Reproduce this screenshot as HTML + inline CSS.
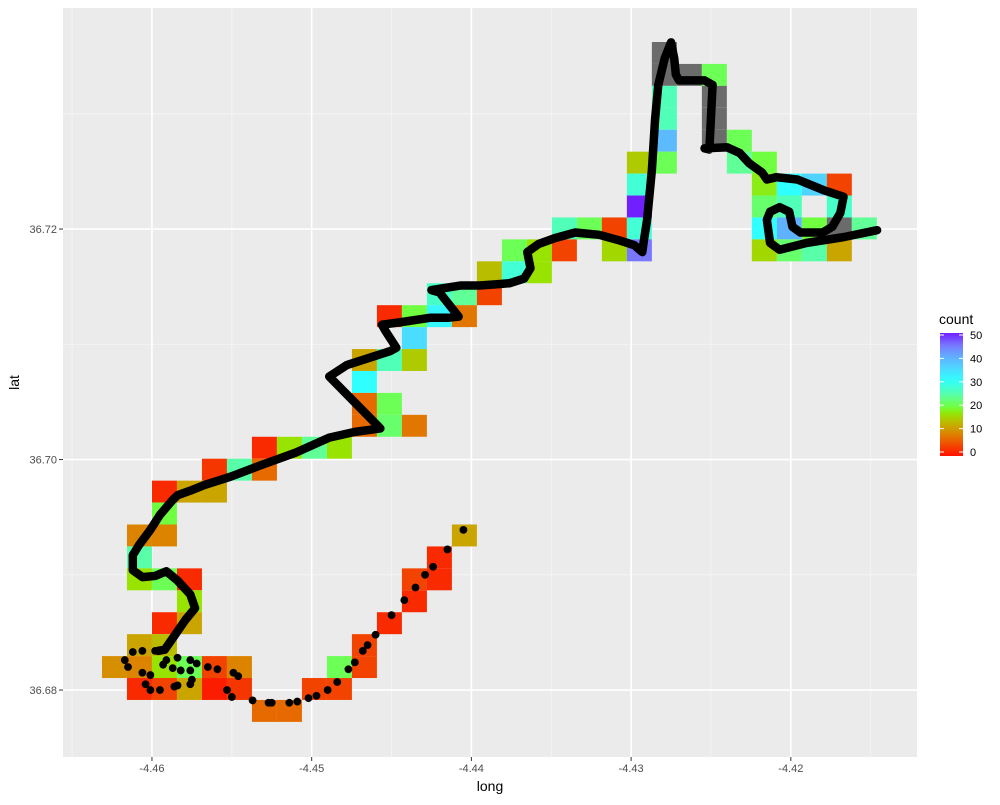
<!DOCTYPE html>
<html><head><meta charset="utf-8"><style>
body{margin:0;background:#fff;font-family:"Liberation Sans",sans-serif}
</style></head><body>
<svg id="chart" width="1000" height="800" xmlns="http://www.w3.org/2000/svg" font-family="Liberation Sans, sans-serif"></svg>
<script>
const tileCol=[22,22,23,24,22,24,22,24,22,24,25,21,22,25,26,21,26,27,28,29,21,26,27,29,18,19,20,21,26,27,28,29,30,16,17,18,20,21,26,27,28,29,15,16,17,13,14,15,11,12,13,14,12,10,11,12,10,10,11,10,11,12,6,7,8,9,4,5,6,2,3,4,2,1,2,14,1,13,1,2,3,12,13,3,12,2,3,11,1,2,10,0,1,2,3,4,5,9,10,1,2,3,4,5,8,9,6,7];
const tileRow=[0,1,1,1,2,2,3,3,4,4,4,5,5,5,5,6,6,6,6,6,7,7,7,7,8,8,8,8,8,8,8,8,8,9,9,9,9,9,9,9,9,9,10,10,10,11,11,11,12,12,12,12,13,14,14,14,15,16,16,17,17,17,18,18,18,18,19,19,19,20,20,20,21,22,22,22,23,23,24,24,24,24,24,25,25,26,26,26,27,27,27,28,28,28,28,28,28,28,28,29,29,29,29,29,29,29,30,30];
const tileCount=[null,null,null,21,26,null,26,null,39,null,21,15,21,24,20,28,18,31,36,4,50,22,26,27,26,21,4,28,31,40,20,null,24,21,17,4,16,45,16,22,25,12,14,28,17,27,24,4,2,20,32,8,35,12,26,15,31,7,21,7,22,8,2,17,24,17,3,25,7,2,12,12,20,9,9,12,25,2,17,21,2,4,2,17,2,2,12,2,12,14,4,10,9,17,21,4,9,21,4,2,4,12,1,3,4,4,7,7];
const binOriginLong=-4.46313, binWidth=0.001565, binTopLat=36.73623, binHeight=0.001903;

const dotLong=[-4.4405,-4.4415,-4.4424,-4.4429,-4.4435,-4.4442,-4.4450,-4.4460,-4.4465,-4.4468,-4.4473,-4.4477,-4.4484,-4.4490,-4.4497,-4.4502,-4.4509,-4.4514,-4.4525,-4.4527,-4.4537,-4.4550,-4.4553,-4.4546,-4.4549,-4.4559,-4.4565,-4.4572,-4.4576,-4.4584,-4.4591,-4.4593,-4.4587,-4.4582,-4.4576,-4.4575,-4.4576,-4.4584,-4.4586,-4.4595,-4.4601,-4.4604,-4.4601,-4.4606,-4.4615,-4.4617,-4.4612,-4.4606,-4.4598];
const dotLat=[36.6939,36.6922,36.6907,36.6900,36.6889,36.6878,36.6865,36.6848,36.6839,36.6834,36.6824,36.6818,36.6807,36.6800,36.6795,36.6793,36.6790,36.6789,36.6789,36.6789,36.6791,36.6794,36.6800,36.6812,36.6815,36.6818,36.6820,36.6823,36.6826,36.6828,36.6826,36.6822,36.6819,36.6817,36.6817,36.6809,36.6805,36.6804,36.6803,36.6800,36.6800,36.6805,36.6813,36.6815,36.6820,36.6826,36.6833,36.6834,36.6834];
const trackLong=[-4.4596,-4.4592,-4.4579,-4.4573,-4.4576,-4.4584,-4.4591,-4.4598,-4.4606,-4.4612,-4.4612,-4.4608,-4.4601,-4.4595,-4.4587,-4.4584,-4.4576,-4.4567,-4.4551,-4.4532,-4.4510,-4.4489,-4.4473,-4.4457,-4.4489,-4.4478,-4.4451,-4.4447,-4.4454,-4.4456,-4.4445,-4.4426,-4.4415,-4.4408,-4.4420,-4.4425,-4.4407,-4.4395,-4.4385,-4.4376,-4.4367,-4.4363,-4.4365,-4.4358,-4.4348,-4.4335,-4.4320,-4.4307,-4.4298,-4.4293,-4.4292,-4.4290,-4.4287,-4.4285,-4.4283,-4.4279,-4.4275,-4.4273,-4.4272,-4.4270,-4.4254,-4.4249,-4.4251,-4.4254,-4.4240,-4.4232,-4.4226,-4.4218,-4.4215,-4.4209,-4.4196,-4.4180,-4.4167,-4.4169,-4.4174,-4.4180,-4.4194,-4.4199,-4.4201,-4.4207,-4.4213,-4.4215,-4.4213,-4.4207,-4.4190,-4.4167,-4.4146];
const trackLat=[36.6834,36.6835,36.6861,36.6871,36.6883,36.6895,36.6903,36.6899,36.6898,36.6904,36.6917,36.6926,36.6939,36.6952,36.6965,36.6969,36.6973,36.6978,36.6985,36.6995,36.7006,36.7019,36.7024,36.7027,36.7072,36.7082,36.7094,36.7097,36.7112,36.7117,36.7119,36.7123,36.7123,36.7124,36.7145,36.7147,36.7151,36.7151,36.7152,36.7153,36.7157,36.7166,36.7180,36.7187,36.7192,36.7197,36.7195,36.7190,36.7186,36.7180,36.7190,36.7208,36.7251,36.7295,36.7325,36.7348,36.7362,36.7348,36.7334,36.7329,36.7329,36.7325,36.7269,36.7270,36.7271,36.7266,36.7257,36.7249,36.7243,36.7245,36.7243,36.7234,36.7228,36.7214,36.7202,36.7197,36.7197,36.7202,36.7215,36.7219,36.7215,36.7208,36.7188,36.7182,36.7188,36.7193,36.7199];
const xTicks=[-4.46,-4.45,-4.44,-4.43,-4.42];
const xTickLabels=["-4.46","-4.45","-4.44","-4.43","-4.42"];
const xMinor=[-4.465,-4.455,-4.445,-4.435,-4.425,-4.415];
const yTicks=[36.68,36.70,36.72];
const yTickLabels=["36.68","36.70","36.72"];
const yMinor=[36.69,36.71,36.73];
const legendTicks=[0,10,20,30,40,50];

const P={l:63,r:917,t:8,b:757};
const X0=-4.46557,X1=-4.41210,Y0=36.67419,Y1=36.73918;
const sx=v=>P.l+(v-X0)/(X1-X0)*(P.r-P.l);
const sy=v=>P.b-(v-Y0)/(Y1-Y0)*(P.b-P.t);
const stops=[[0,[255,16,0]],[5,[240,80,0]],[9,[220,132,0]],[13,[196,176,0]],[17,[152,228,0]],[20,[112,255,64]],[24,[96,255,152]],[27,[72,255,200]],[31,[48,255,255]],[36,[80,212,255]],[41,[100,168,255]],[45,[120,120,255]],[50,[112,32,255]]];
function col(c){if(c==null)return '#6B6B6B';for(let i=1;i<stops.length;i++){if(c<=stops[i][0]){const a=stops[i-1],b=stops[i],t=(c-a[0])/(b[0]-a[0]);return 'rgb('+a[1].map((v,k)=>Math.round(v+(b[1][k]-v)*t)).join(',')+')';}}return 'rgb(112,32,255)';}
const svg=document.getElementById('chart');
const NS='http://www.w3.org/2000/svg';
function mk(tag,attrs,parent){const e=document.createElementNS(NS,tag);for(const k in attrs)e.setAttribute(k,attrs[k]);(parent||svg).appendChild(e);return e;}

const bg=mk('rect',{x:P.l,y:P.t,width:P.r-P.l,height:P.b-P.t,fill:'#EBEBEB'});


xMinor.forEach(v=>{const e=mk('line',{x1:sx(v),x2:sx(v),y1:P.t,y2:P.b,stroke:'#F5F5F5','stroke-width':0.8});

});
yMinor.forEach(v=>{const e=mk('line',{y1:sy(v),y2:sy(v),x1:P.l,x2:P.r,stroke:'#F5F5F5','stroke-width':0.8});

});
xTicks.forEach((v,i)=>{const e=mk('line',{x1:sx(v),x2:sx(v),y1:P.t,y2:P.b,stroke:'#fff','stroke-width':1.6});


const t=mk('line',{x1:sx(v),x2:sx(v),y1:P.b,y2:P.b+4,stroke:'#333','stroke-width':1});


const l=mk('text',{x:sx(v),y:P.b+15,'text-anchor':'middle','font-size':11,fill:'#4D4D4D'});l.textContent=xTickLabels[i];

});
yTicks.forEach((v,i)=>{const e=mk('line',{y1:sy(v),y2:sy(v),x1:P.l,x2:P.r,stroke:'#fff','stroke-width':1.6});


const t=mk('line',{x1:P.l-4,x2:P.l,y1:sy(v),y2:sy(v),stroke:'#333','stroke-width':1});


const l=mk('text',{x:P.l-6,y:sy(v)+4,'text-anchor':'end','font-size':11,fill:'#4D4D4D'});l.textContent=yTickLabels[i];

});

tileCol.forEach((c,i)=>{const x=sx(binOriginLong+c*binWidth), x2=sx(binOriginLong+(c+1)*binWidth);
const y=sy(binTopLat-tileRow[i]*binHeight), y2=sy(binTopLat-(tileRow[i]+1)*binHeight);
const e=mk('rect',{x:x,y:y,width:x2-x,height:y2-y,fill:col(tileCount[i])});

});

const pl=mk('polyline',{points:trackLong.map((v,i)=>sx(v)+','+sy(trackLat[i])).join(' '),fill:'none',stroke:'#000','stroke-width':8.5,'stroke-linejoin':'round','stroke-linecap':'round'});


dotLong.forEach((v,i)=>{const e=mk('circle',{cx:sx(v),cy:sy(dotLat[i]),r:3.9,fill:'#000'});

});

const xt=mk('text',{x:(P.l+P.r)/2,y:791,'text-anchor':'middle','font-size':14,fill:'#000'});xt.textContent='long';


const yt=mk('text',{x:0,y:0,transform:'translate(19,'+((P.t+P.b)/2)+') rotate(-90)','text-anchor':'middle','font-size':14,fill:'#000'});yt.textContent='lat';



const lg=mk('g',{});


const lt=mk('text',{x:939,y:324,'font-size':14,fill:'#000'},lg);lt.textContent='count';


const defs=mk('defs',{});const gr=mk('linearGradient',{id:'lgGrad',x1:0,y1:1,x2:0,y2:0},defs);
for(let c=0;c<=50;c+=2.5){mk('stop',{offset:c/50,'stop-color':col(c)},gr);}
const ly0=452,ly1=335;
const lb=mk('rect',{x:940,y:ly1-2,width:23,height:ly0-ly1+6,fill:'url(#lgGrad)'},lg);


legendTicks.forEach(v=>{const y=ly0-(v/50)*(ly0-ly1);
mk('line',{x1:940,x2:944,y1:y,y2:y,stroke:'#fff','stroke-width':1},lg);
mk('line',{x1:959,x2:963,y1:y,y2:y,stroke:'#fff','stroke-width':1},lg);
const t=mk('text',{x:970,y:y+4,'font-size':11,fill:'#000'},lg);t.textContent=String(v);

});
</script>
</body></html>
